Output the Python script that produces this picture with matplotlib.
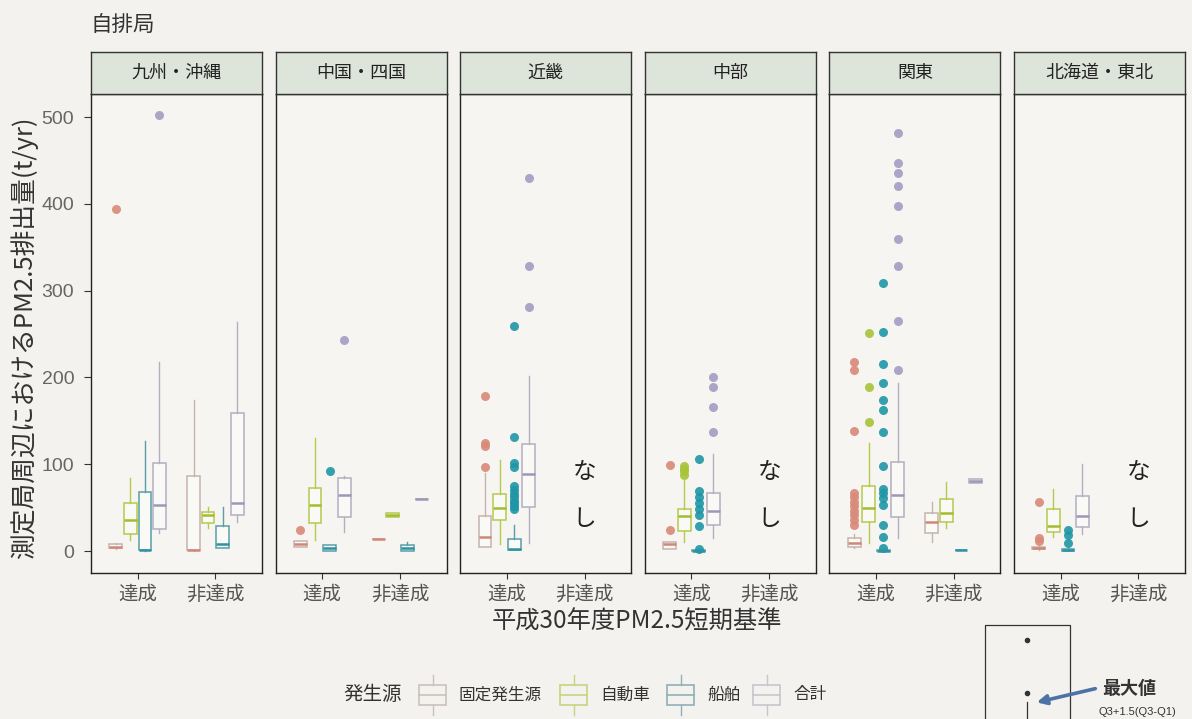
import matplotlib
matplotlib.use("Agg")
import matplotlib.pyplot as plt
from matplotlib.patches import Rectangle, FancyArrowPatch

plt.rcParams['font.family'] = ['Noto Sans CJK JP', 'DejaVu Sans']

# ---- data -------------------------------------------------------------
regions = ["九州・沖縄", "中国・四国", "近畿", "中部", "関東", "北海道・東北"]
categories = ["達成", "非達成"]
sources = ["固定発生源", "自動車", "船舶", "合計"]
y_ticks = [0, 100, 200, 300, 400, 500]

# five-number summaries (whisker low, Q1, median, Q3, whisker high),
# ordered region by region, 達成 then 非達成; None = no stations
fixed_box = [
    (2, 3, 5, 8, 9), (0, 1, 1, 87, 174),
    (5, 5, 8, 12, 12), (14, 14, 14, 14, 14),
    (5, 5, 16, 40, 90), None,
    (2, 2, 8, 10, 10), None,
    (3, 5, 9, 15, 20), (10, 21, 33, 44, 57),
    (1, 2, 4, 5, 6), None,
]
fixed_out = [[394], [], [24], [], [97, 121, 125, 179], [], [24, 99], [],
             [30, 36, 41, 46, 52, 57, 62, 67, 138, 209, 218], [], [11, 15, 56], []]

auto_box = [
    (13, 20, 36, 55, 84), (26, 32, 41, 45, 51),
    (13, 32, 53, 73, 130), (39, 39, 42, 44, 44),
    (8, 36, 50, 66, 105), None,
    (10, 23, 40, 48, 82), None,
    (9, 33, 50, 75, 124), (26, 33, 44, 60, 79),
    (16, 22, 29, 49, 71), None,
]
auto_out = [[], [], [], [], [], [], [88, 92, 95, 98], [], [149, 189, 251], [], [], []]

ship_box = [
    (0, 1, 1, 68, 127), (3, 3, 8, 29, 51),
    (0, 0, 3, 7, 7), (0, 0, 3, 7, 10),
    (1, 1, 2, 14, 30), None,
    (0, 0, 0, 1, 1), None,
    (0, 0, 0, 1, 1), (1, 1, 1, 1, 1),
    (0, 0, 1, 2, 3), None,
]
ship_out = [[], [], [92], [], [48, 52, 55, 58, 62, 66, 70, 75, 97, 101, 131, 259], [],
            [2, 29, 41, 49, 55, 62, 69, 106], [],
            [3, 16, 30, 53, 61, 67, 72, 98, 137, 162, 174, 194, 215, 252, 309], [],
            [9, 19, 24], []]

total_box = [
    (21, 25, 53, 101, 218), (33, 41, 55, 159, 264),
    (22, 39, 64, 84, 86), (60, 60, 60, 60, 60),
    (9, 51, 89, 123, 202), None,
    (15, 30, 46, 67, 112), None,
    (15, 39, 65, 103, 194), (78, 78, 81, 83, 83),
    (20, 28, 40, 63, 100), None,
]
total_out = [[502], [], [243], [], [281, 328, 430], [], [137, 166, 189, 200], [],
             [209, 265, 328, 359, 398, 420, 436, 447, 481], [], [], []]

# ---- styling ----------------------------------------------------------
box_sets = [(fixed_box, fixed_out), (auto_box, auto_out), (ship_box, ship_out), (total_box, total_out)]
edge_cols = ["#c7b3ae", "#b5c94e", "#5a9ea8", "#b4aec0"]
med_cols = ["#cf8777", "#a3bd2e", "#2d93a4", "#a195b8"]
pt_cols = ["#d98a78", "#a8c43a", "#1f96a6", "#a49cc4"]
legend_cols = ["#c9c1bf", "#c6d47e", "#8fb1b6", "#c9c5cd"]
offsets = [-0.28125, -0.09375, 0.09375, 0.28125]

W, H = 1192, 719
paper = "#f3f2ee"
fig = plt.figure(figsize=(W / 100, H / 100), dpi=100, facecolor=paper)


def px_axes(left, top, width, height):
    return fig.add_axes([left / W, 1 - (top + height) / H, width / W, height / H])


panel_top, panel_bot = 94, 573
strip_top = 52
pw = 171
pitch = 184.6
for i, region in enumerate(regions):
    left = 91 + i * pitch
    ax = px_axes(left, panel_top, pw, panel_bot - panel_top)
    ax.set_facecolor("#f6f5f1")
    ax.set_xlim(0.4, 2.6)
    ax.set_ylim(-25.3, 526.5)
    for s in ax.spines.values():
        s.set_color("#222222")
        s.set_linewidth(1.0)

    for j in range(2):
        idx = 2 * i + j
        for k, (boxes, outs) in enumerate(box_sets):
            st = boxes[idx]
            if st is None:
                continue
            lo, q1, med, q3, hi = st
            stats = [dict(whislo=lo, q1=q1, med=med, q3=q3, whishi=hi, fliers=outs[idx])]
            ax.bxp(stats, positions=[j + 1 + offsets[k]], widths=0.165,
                   showcaps=False, patch_artist=True,
                   boxprops=dict(facecolor="#f9f9f6", edgecolor=edge_cols[k], linewidth=1.1),
                   whiskerprops=dict(color=edge_cols[k], linewidth=1.0),
                   medianprops=dict(color=med_cols[k], linewidth=1.8),
                   flierprops=dict(marker='o', markerfacecolor=pt_cols[k],
                                   markeredgecolor='none', markersize=6.5, alpha=0.9))
        if j == 1 and all(b[0][idx] is None for b in box_sets):
            ax.text(2, 91, "な", ha="center", va="center", fontsize=17, color="#222222")
            ax.text(2, 36, "し", ha="center", va="center", fontsize=17, color="#222222")

    ax.set_xticks([1, 2])
    ax.set_xticklabels(categories, fontsize=14, color="#555555")
    ax.tick_params(axis="x", length=4, width=0.8, color="#333333", pad=4)
    if i == 0:
        ax.set_yticks(y_ticks)
        ax.set_yticklabels([str(v) for v in y_ticks], fontsize=14, color="#666666",
                           family=["Liberation Sans", "DejaVu Sans"])
        ax.tick_params(axis="y", length=5, width=0.8, color="#333333", pad=7)
    else:
        ax.set_yticks([])

    # facet strip
    sx = px_axes(left, strip_top, pw, panel_top - strip_top)
    sx.set_facecolor("#dde4d9")
    sx.set_xticks([])
    sx.set_yticks([])
    for s in sx.spines.values():
        s.set_color("#333333")
        s.set_linewidth(1.0)
    sx.text(0.5, 0.5, region, transform=sx.transAxes, ha="center", va="center",
            fontsize=13, color="#222222")

# titles and axis labels
fig.text(90 / W, 1 - 25 / H, "自排局", ha="left", va="center", fontsize=15.5, color="#333333")
fig.text(24 / W, 1 - 338 / H, "測定局周辺におけるPM2.5排出量(t/yr)", rotation=90,
         ha="center", va="center", fontsize=18.5, color="#333333")
fig.text(637 / W, 1 - 622 / H, "平成30年度PM2.5短期基準", ha="center", va="center",
         fontsize=17.5, color="#333333")

# overlay in pixel coordinates for legend and whisker note
ov = fig.add_axes([0, 0, 1, 1])
ov.set_xlim(0, W)
ov.set_ylim(H, 0)
ov.axis("off")
ov.patch.set_alpha(0)

ov.text(343, 695, "発生源", ha="left", va="center", fontsize=14, color="#333333")
glyph_x = [419, 560, 667, 753]
for gx, col, lab in zip(glyph_x, legend_cols, sources):
    ov.add_patch(Rectangle((gx, 685), 27, 20, facecolor="none", edgecolor=col, lw=1.2))
    ov.plot([gx, gx + 27], [695, 695], color=col, lw=1.2)
    ov.plot([gx + 13.5, gx + 13.5], [675, 685], color=col, lw=1.0)
    ov.plot([gx + 13.5, gx + 13.5], [705, 715], color=col, lw=1.0)
    ov.text(gx + 40, 695, lab, ha="left", va="center", fontsize=12, color="#333333")

ov.add_patch(Rectangle((985, 625), 85, 110, facecolor="none", edgecolor="#333333", lw=0.9))
ov.plot([1027, 1027], [640, 693], "o", color="#333333", markersize=3)
ov.plot([1027, 1027], [702, 719], color="#333333", lw=0.9)
ov.add_patch(FancyArrowPatch((1098, 688), (1034, 703), arrowstyle="-|>", mutation_scale=14,
                             color="#4d72a6", lw=2.6))
ov.text(1102, 689, "最大値", ha="left", va="center", fontsize=13, fontweight="bold", color="#333333")
ov.text(1137, 712, "Q3+1.5(Q3-Q1)", ha="center", va="center", fontsize=8, color="#333333",
        family=["Liberation Sans", "DejaVu Sans"])

fig.savefig("out.png", dpi=100, facecolor=paper)
